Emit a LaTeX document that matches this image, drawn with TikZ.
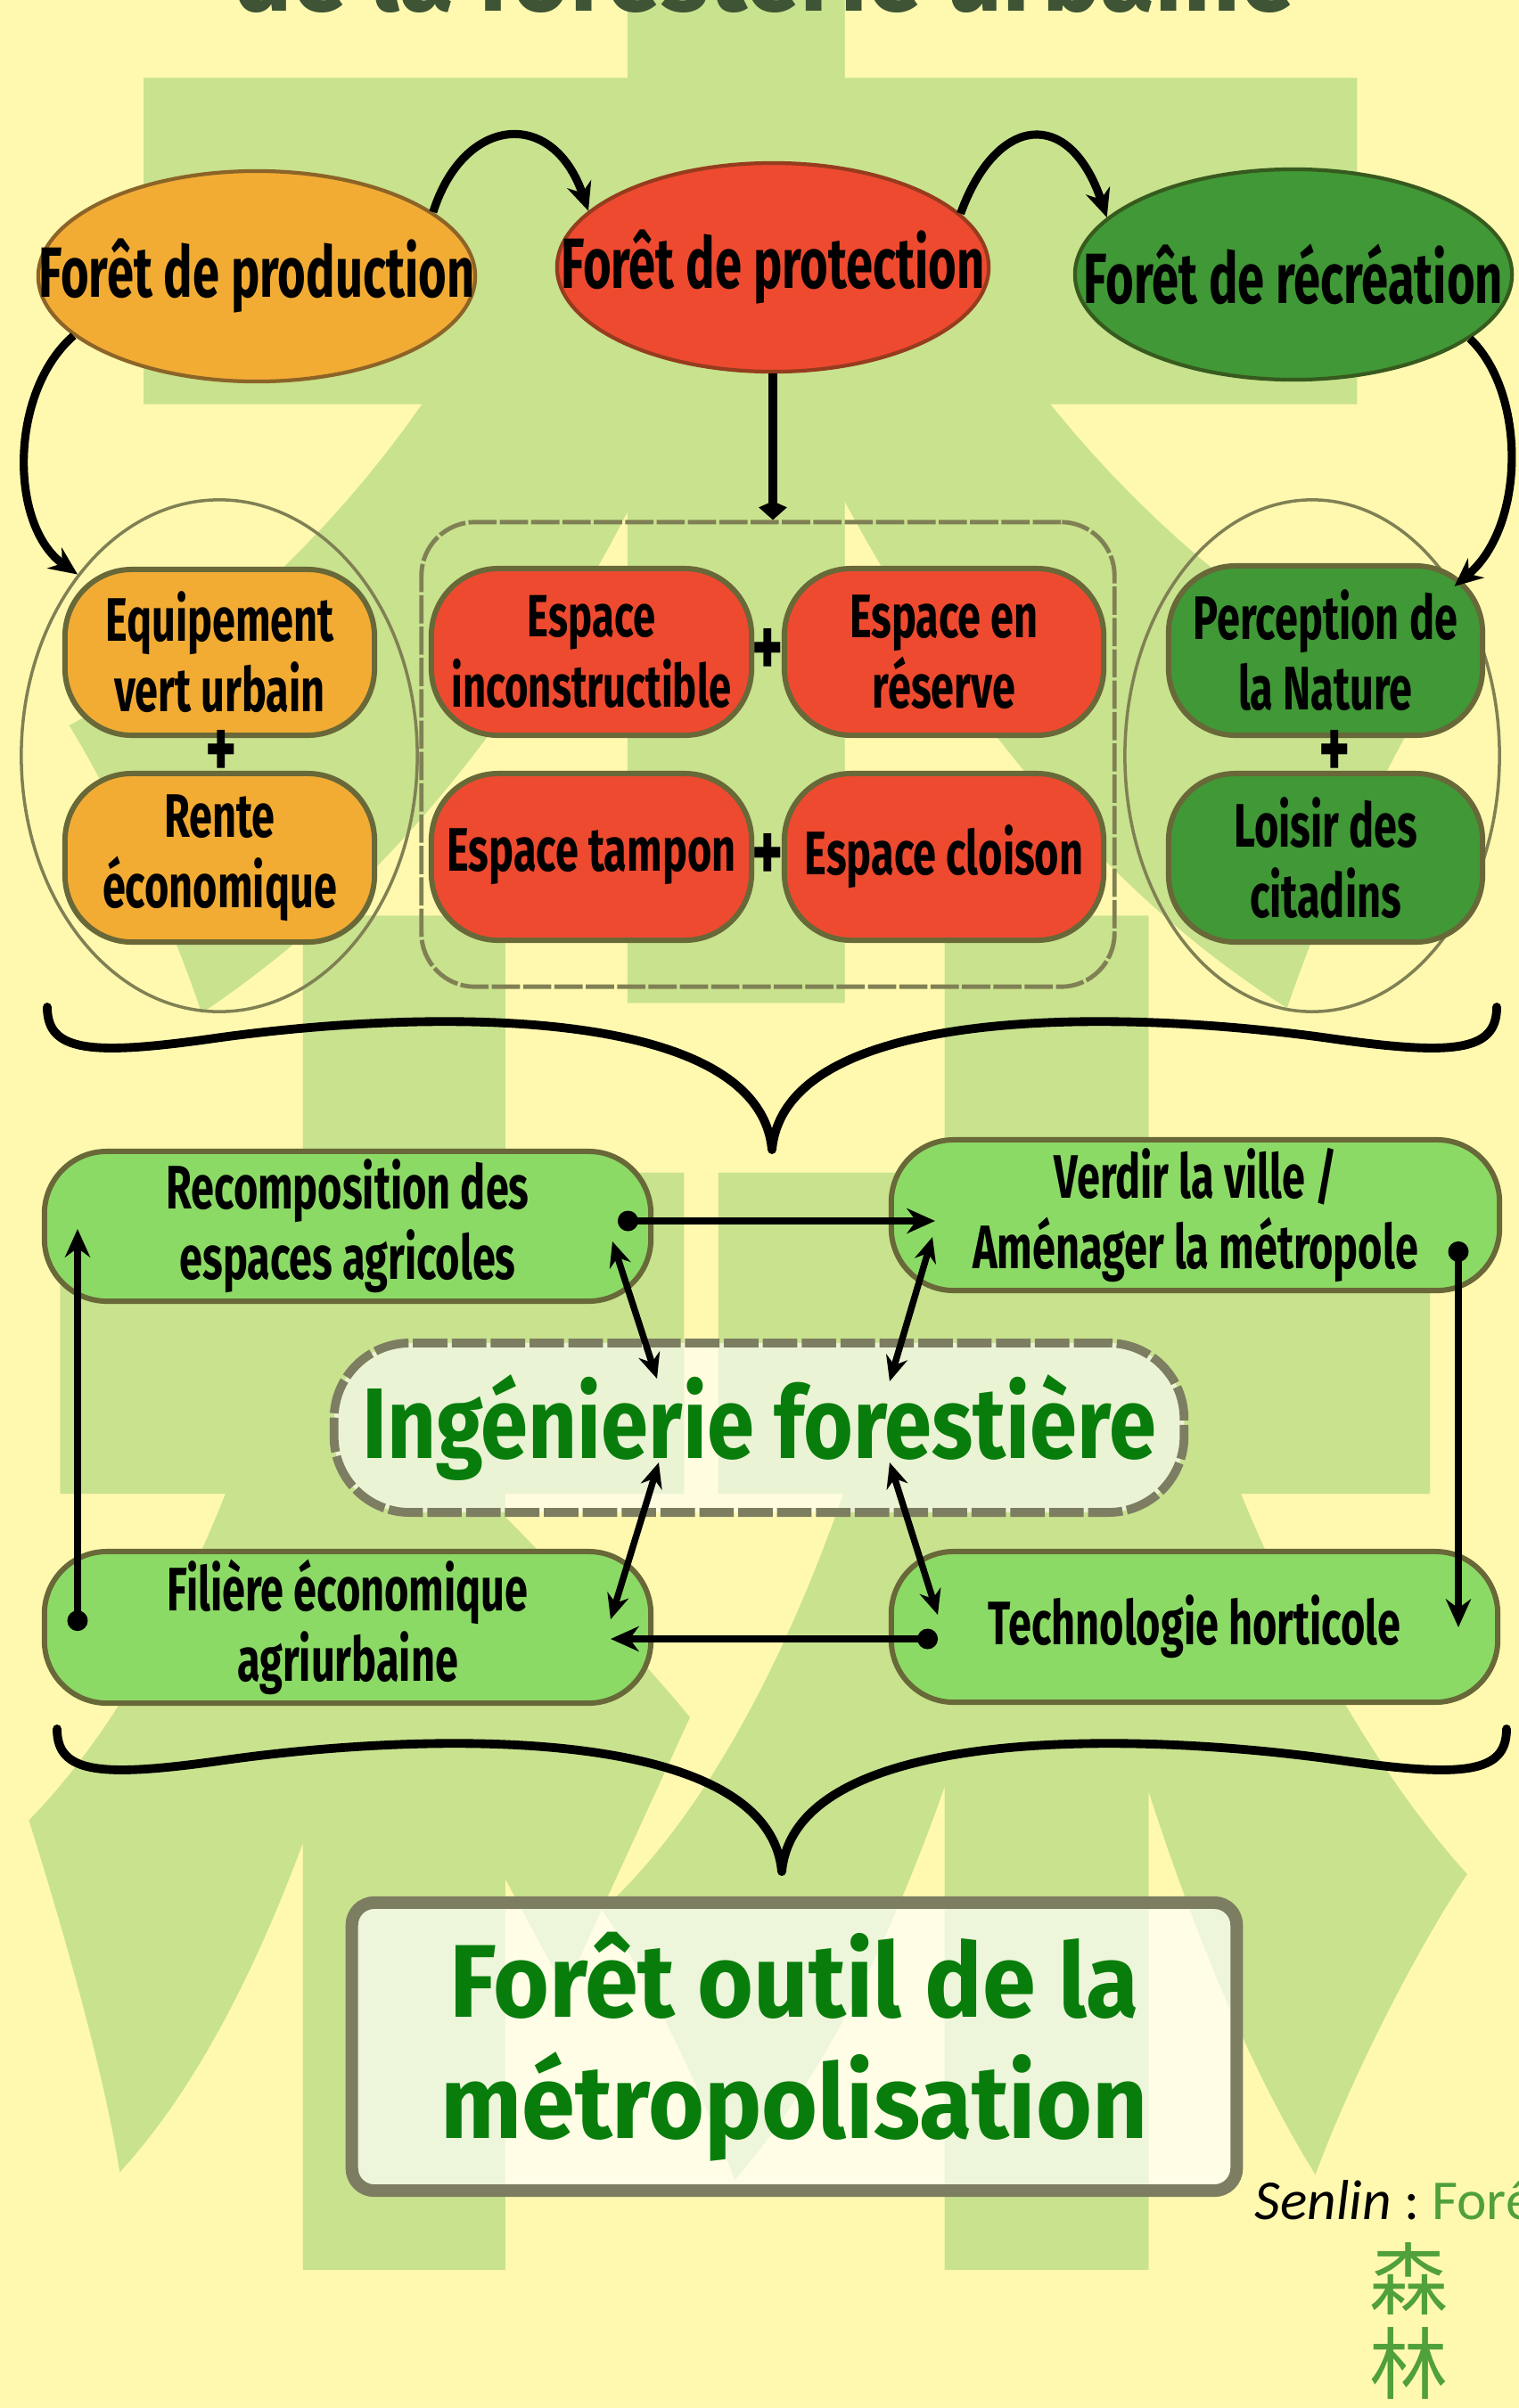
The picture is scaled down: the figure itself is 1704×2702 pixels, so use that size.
\documentclass[tikz,border=0pt]{standalone}
\usepackage{fontspec}
\setmainfont{Fira Sans}
\newfontfamily\fontA{Fira Sans}[FakeStretch=0.68]
\newfontfamily\fontB{Fira Sans}[FakeStretch=0.85]
\newfontfamily\fontC{Fira Sans}[FakeStretch=0.93]
\newfontfamily\fontS{Carlito}
\newfontfamily\cjkfont{Noto Sans CJK SC}
\usetikzlibrary{arrows.meta,shapes.geometric,calc}

\definecolor{bgyellow}{RGB}{255,249,175}
\definecolor{wmgreen}{RGB}{200,226,142}
\definecolor{orangeF}{RGB}{242,172,52}
\definecolor{orangeB}{RGB}{140,100,40}
\definecolor{redF}{RGB}{238,74,48}
\definecolor{redB}{RGB}{150,60,30}
\definecolor{dgreenF}{RGB}{64,152,54}
\definecolor{dgreenB}{RGB}{55,90,30}
\definecolor{lgreenF}{RGB}{140,218,102}
\definecolor{oliveB}{RGB}{104,104,56}
\definecolor{textgreen}{RGB}{8,125,12}
\definecolor{titlegrey}{RGB}{62,84,52}
\definecolor{groupline}{RGB}{128,128,84}
\definecolor{boxline}{RGB}{125,125,98}
\definecolor{smallgreen}{RGB}{80,160,60}

\newcommand{\zw}[1]{\makebox[0pt][c]{#1}}

\begin{document}
\begin{tikzpicture}[x=0.01cm,y=-0.01cm,
  topell/.style={ellipse, inner sep=0pt, line width=1.2pt,
    font=\fontA\bfseries\fontsize{22.7}{24}\selectfont},
  groupell/.style={ellipse, draw=groupline, line width=1pt, inner sep=0pt},
  pill/.style={rounded corners=0.75cm, draw=oliveB, line width=1.7pt, inner sep=0pt,
    align=center, font=\fontA\bfseries\fontsize{19.6}{22.4}\selectfont},
  gpill/.style={pill, fill=lgreenF, rounded corners=0.7cm},
  plussign/.style={inner sep=0pt, font=\fontA\bfseries\fontsize{28}{28}\selectfont},
  arr/.style={line width=2.4pt, -{Stealth[length=9pt,width=8pt]}},
  dotarr/.style={line width=2.4pt, {Circle[length=6.5pt]}-{Stealth[length=9pt,width=8pt]}},
  dblarr/.style={line width=2.1pt, {Stealth[length=8pt,width=7pt]}-{Stealth[length=8pt,width=7pt]}},
  bracestyle/.style={line width=2.8pt, line cap=round, line join=round},
]
\useasboundingbox (0,0) rectangle (1704,2702);
\begin{scope}
\clip (0,0) rectangle (1704,2702);
\fill[bgyellow] (0,0) rectangle (1704,2702);

% watermark
\node[text=wmgreen, inner sep=0pt] (wm) at (835,1175)
  {\scalebox{0.95}[1.64]{\cjkfont\bfseries\fontsize{500}{500}\selectfont 森}};

% title (cut at the top)
\node[anchor=base, inner sep=0pt, text=titlegrey,
  font=\fontC\bfseries\fontsize{34}{34}\selectfont] (title) at (857,12) {de la foresterie urbaine};

% top ellipses
\node[topell, fill=orangeF, draw=orangeB, minimum width=4.9cm, minimum height=2.36cm]
  (prod) at (288,310) {\zw{Forêt de production}};
\node[topell, fill=redF, draw=redB, minimum width=4.84cm, minimum height=2.34cm]
  (prot) at (867,300) {\zw{Forêt de protection}};
\node[topell, fill=dgreenF, draw=dgreenB, minimum width=4.9cm, minimum height=2.36cm]
  (recr) at (1451,308) {\zw{Forêt de récréation}};

% groups
\node[groupell, minimum width=4.44cm, minimum height=5.74cm] (gL) at (246,848) {};
\node[groupell, minimum width=4.2cm, minimum height=5.74cm] (gR) at (1472,848) {};
\node[draw=groupline, line width=1.4pt, dash pattern=on 9pt off 1pt, rounded corners=0.6cm,
  minimum width=7.77cm, minimum height=5.21cm, inner sep=0pt] (gC) at (861.5,846.5) {};

% orange pills
\node[pill, fill=orangeF, minimum width=3.47cm, minimum height=1.86cm] (eq) at (246.5,732)
  {Equipement\\vert urbain};
\node[pill, fill=orangeF, minimum width=3.47cm, minimum height=1.89cm] (rente) at (246.5,962.5)
  {Rente\\économique};
\node[plussign] (p1) at (248,846) {+};

% red pills
\node[pill, fill=redF, minimum width=3.59cm, minimum height=1.87cm,
  font=\fontA\bfseries\fontsize{19}{22.4}\selectfont] (inc) at (663.5,731.5)
  {Espace\\inconstructible};
\node[pill, fill=redF, minimum width=3.58cm, minimum height=1.87cm] (res) at (1059,731.5)
  {Espace en\\réserve};
\node[pill, fill=redF, minimum width=3.59cm, minimum height=1.87cm] (tam) at (663.5,961.5)
  {Espace tampon};
\node[pill, fill=redF, minimum width=3.58cm, minimum height=1.87cm] (clo) at (1059,961.5)
  {Espace cloison};
\node[plussign] (p2) at (861,732) {+};
\node[plussign] (p3) at (861,962) {+};

% green pills
\node[pill, fill=dgreenF, minimum width=3.52cm, minimum height=1.90cm] (per) at (1487,730)
  {Perception de\\la Nature};
\node[pill, fill=dgreenF, minimum width=3.52cm, minimum height=1.89cm] (loi) at (1487,962.5)
  {Loisir des\\citadins};
\node[plussign] (p4) at (1497,846) {+};

% top connectors
\draw[arr, line width=2.6pt] (prod.20) .. controls (520,130) and (620,120) .. (prot.163);
\draw[arr, line width=2.6pt] (prot.16) .. controls (1118,128) and (1200,120) .. (recr.163);
\draw[arr, line width=2.6pt] (prod.198) .. controls (10,440) and (10,590) .. (gL.128);
\draw[arr, line width=2.6pt] (recr.340) .. controls (1712,440) and (1712,590) .. (gR.50);
\draw[line width=2.6pt, -{Kite[length=6pt,width=9pt,inset=2pt]}] (prot.south) -- (prot.south |- gC.north);

% brace 1
\begin{scope}[shift={(866,1290)}]
\draw[bracestyle] (-813,-160) .. controls (-813,-110) and (-765,-105) .. (-625,-125)
  .. controls (-375,-160) and (-15,-160) .. (0,0)
  .. controls (15,-160) and (375,-160) .. (625,-125)
  .. controls (765,-105) and (813,-110) .. (813,-160);
\end{scope}

% middle pills
\node[gpill, minimum width=6.8cm, minimum height=1.68cm] (reco) at (390,1376)
  {Recomposition des\\espaces agricoles};
\node[gpill, minimum width=6.82cm, minimum height=1.69cm] (verd) at (1341,1363.5)
  {Verdir la ville /\\Aménager la métropole};
\node[gpill, minimum width=6.8cm, minimum height=1.70cm] (fil) at (390,1826)
  {Filière économique\\agriurbaine};
\node[gpill, minimum width=6.8cm, minimum height=1.69cm] (tech) at (1340,1825.5)
  {Technologie horticole};
\node[rounded corners=0.85cm, draw=boxline, line width=2.8pt, dash pattern=on 11pt off 1.4pt,
  fill=white, fill opacity=0.62, text opacity=1, text=textgreen, inner sep=0pt,
  minimum width=9.53cm, minimum height=1.90cm,
  font=\fontB\bfseries\fontsize{32}{34}\selectfont] (ing) at (851.5,1602) {Ingénierie forestière};

% connector end points
\coordinate (h1a) at (693,1370);  \coordinate (h1b) at (1049,1370);
\coordinate (vra) at (1636,1393); \coordinate (vrb) at (1636,1826);
\coordinate (h2a) at (1052,1839); \coordinate (h2b) at (685,1839);
\coordinate (vla) at (87,1830);   \coordinate (vlb) at (87,1379);
\coordinate (d1a) at (687,1393);  \coordinate (d1b) at (737,1547);
\coordinate (d2a) at (1046,1388); \coordinate (d2b) at (998,1550);
\coordinate (d3a) at (739,1641);  \coordinate (d3b) at (685,1817);
\coordinate (d4a) at (998,1641);  \coordinate (d4b) at (1052,1812);

\draw[dotarr] (h1a) -- (h1b);
\draw[dotarr] (vra) -- (vrb);
\draw[dotarr] (h2a) -- (h2b);
\draw[dotarr] (vla) -- (vlb);
\draw[dblarr] (d1a) -- (d1b);
\draw[dblarr] (d2a) -- (d2b);
\draw[dblarr] (d3a) -- (d3b);
\draw[dblarr] (d4a) -- (d4b);

% brace 2
\begin{scope}[shift={(877,2100)}]
\draw[bracestyle] (-813,-160) .. controls (-813,-110) and (-765,-105) .. (-625,-125)
  .. controls (-375,-160) and (-15,-160) .. (0,0)
  .. controls (15,-160) and (375,-160) .. (625,-125)
  .. controls (765,-105) and (813,-110) .. (813,-160);
\end{scope}

% final box
\node[rounded corners=0.25cm, draw=boxline, line width=4pt,
  fill=white, fill opacity=0.68, text opacity=1, text=textgreen, inner sep=0pt, align=center,
  minimum width=9.92cm, minimum height=3.23cm,
  font=\fontC\bfseries\fontsize{33}{38.5}\selectfont] (final) at (891,2296.5)
  {Forêt outil de la\\métropolisation};

% legend
\node[anchor=base west, inner sep=0pt, font=\fontS\fontsize{18}{18}\selectfont] (senlin) at (1407,2490)
  {\itshape Senlin\upshape\ :\ \textcolor{smallgreen}{Forêt}};
\node[text=smallgreen, inner sep=0pt, font=\cjkfont\fontsize{25}{25}\selectfont] (sen) at (1580,2557) {森};
\node[text=smallgreen, inner sep=0pt, font=\cjkfont\fontsize{25}{25}\selectfont] (lin) at (1580,2652) {林};
\end{scope}
\end{tikzpicture}
\end{document}
